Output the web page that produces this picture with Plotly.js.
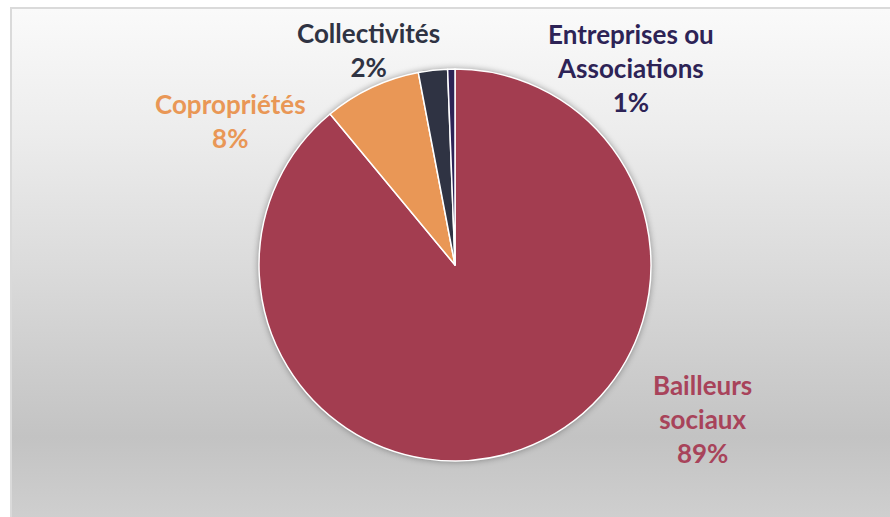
<!DOCTYPE html>
<html>
<head>
<meta charset="utf-8">
<script src="https://cdn.plot.ly/plotly-3.0.1.min.js"></script>
<style>
  html, body { margin: 0; padding: 0; background: #ffffff; }
  #wrap { position: relative; width: 890px; height: 517px; overflow: hidden; }
  #bg { position: absolute; left: 10px; top: 7px; width: 880px; height: 510px;
        border-left: 2px solid #dadada; border-top: 2px solid #dadada;
        background: linear-gradient(to bottom, #fafafa 0%, #ececec 25%, #dadada 52%, #c3c3c3 84%, #cfcfcf 100%); }
  #chart { position: absolute; left: 0; top: 0; width: 890px; height: 517px; }
  .pielayer { filter: drop-shadow(0px 0px 3px rgba(0,0,0,0.35)); }
</style>
</head>
<body>
<div id="wrap">
  <div id="bg"></div>
  <div id="chart"></div>
</div>
<script>
// Data
var categories = ["Bailleurs sociaux", "Copropriétés", "Collectivités", "Entreprises ou Associations"];
var labelText = ["Bailleurs<br>sociaux", "Copropriétés", "Collectivités", "Entreprises ou<br>Associations"];
var values = [89, 8, 2.4, 0.6];
var sliceColors = ["#A33D50", "#E99756", "#2F3343", "#2D2356"];
var labelColors = ["#A8435A", "#E99756", "#2F3343", "#2D2356"];

// label anchor positions (paper coordinates)
var labelPos = [
  {x: 702 / 890, y: 1 - 419 / 517},
  {x: 230 / 890, y: 1 - 121 / 517},
  {x: 368 / 890, y: 1 - 50 / 517},
  {x: 631 / 890, y: 1 - 68 / 517}
];

var total = values.reduce(function (a, b) { return a + b; }, 0);

var trace = {
  type: "pie",
  labels: categories,
  values: values,
  sort: false,
  direction: "clockwise",
  rotation: 0,
  marker: { colors: sliceColors, line: { color: "#ffffff", width: 1.5 } },
  textinfo: "none",
  hoverinfo: "label+percent",
  showlegend: false,
  domain: { x: [259 / 890, 651 / 890], y: [(517 - 461) / 517, (517 - 69) / 517] }
};

var annotations = categories.map(function (c, i) {
  var pct = Math.round(values[i] / total * 100) + "%";
  return {
    xref: "paper", yref: "paper",
    x: labelPos[i].x, y: labelPos[i].y,
    xanchor: "center", yanchor: "middle",
    text: "<b>" + labelText[i] + "<br>" + pct + "</b>",
    showarrow: false,
    align: "center",
    font: { family: "Lato, 'Noto Sans', sans-serif", size: 26, color: labelColors[i] }
  };
});

var layout = {
  width: 890, height: 517,
  margin: { l: 0, r: 0, t: 0, b: 0 },
  paper_bgcolor: "rgba(0,0,0,0)",
  plot_bgcolor: "rgba(0,0,0,0)",
  annotations: annotations,
  showlegend: false
};

Plotly.newPlot("chart", [trace], layout, { displayModeBar: false, staticPlot: true });
</script>
</body>
</html>
